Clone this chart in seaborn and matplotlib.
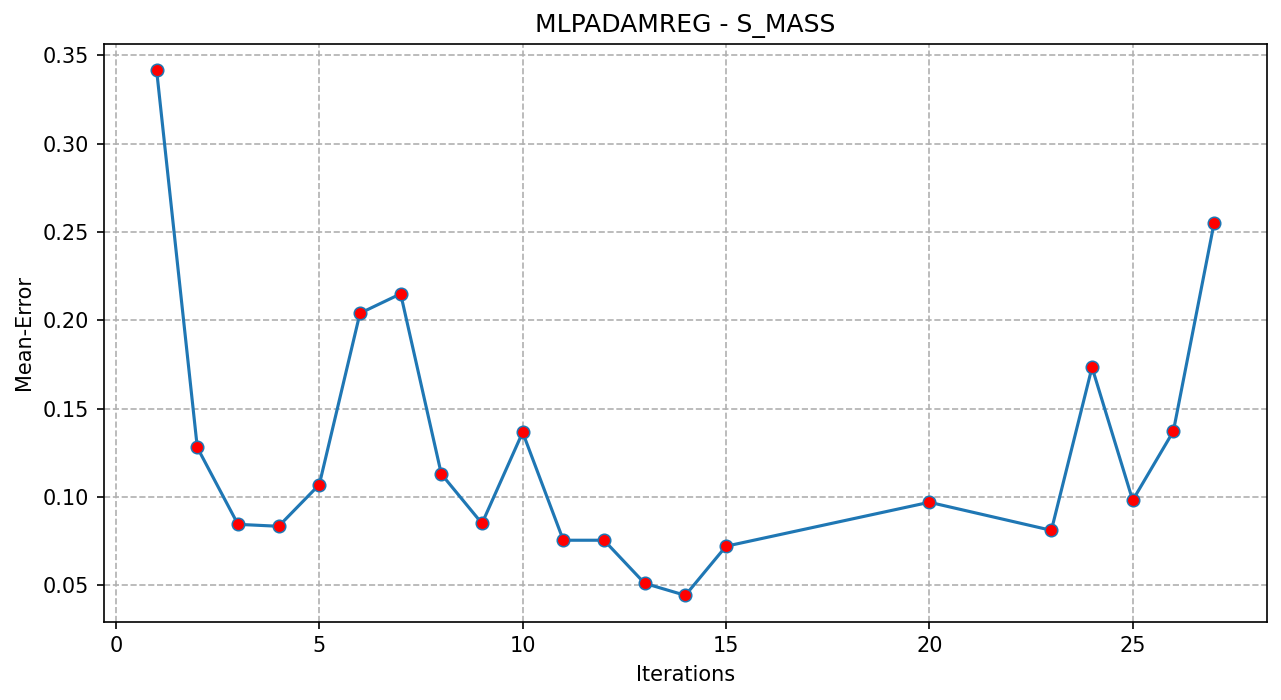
import numpy as np
import pandas as pd
import matplotlib
matplotlib.use('Agg')
import matplotlib.pyplot as plt
import seaborn as sns

# Values
iterations = [1, 2, 3, 4, 5, 6, 7, 8, 9, 10, 11, 12, 13, 14, 15, 20, 23, 24, 25, 26, 27]
mean_error = [0.3415, 0.128, 0.0845, 0.0834, 0.107, 0.204, 0.215, 0.113, 0.085, 0.1366,
              0.0755, 0.0755, 0.0511, 0.0443, 0.0721, 0.097, 0.0811, 0.1734, 0.0981, 0.1372, 0.2549]

df = pd.DataFrame({"Iterations": iterations, "Mean-Error": mean_error})

fig, ax = plt.subplots(figsize=(12.81 / 1.5, 7 / 1.5), dpi=150)
sns.lineplot(data=df, x="Iterations", y="Mean-Error", ax=ax, color='tab:blue',
             marker='o', markersize=6, markerfacecolor='red', markeredgecolor='tab:blue',
             linewidth=1.5)
ax.set_title('MLPADAMREG - S_MASS')
ax.set_xlabel('Iterations')
ax.set_ylabel('Mean-Error')
ax.grid(True, linestyle='--')
plt.subplots_adjust(left=0.081, right=0.989, top=0.937, bottom=0.112)
plt.savefig('out.png', dpi=150)
plt.close()
